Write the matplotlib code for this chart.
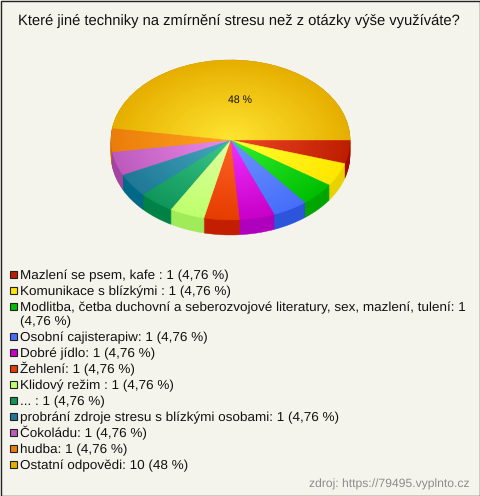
import numpy as np
import matplotlib
matplotlib.use('Agg')
import matplotlib.pyplot as plt
from matplotlib.patches import Rectangle

plt.rcParams['font.family'] = ['Liberation Sans', 'DejaVu Sans']
plt.rcParams['text.hinting'] = 'none'

title = "Které jiné techniky na zmírnění stresu než z otázky výše využíváte?"
source = "zdroj: https://79495.vyplnto.cz"
values = [1, 1, 1, 1, 1, 1, 1, 1, 1, 1, 1, 10]
labels = [
    "Mazlení se psem, kafe : 1 (4,76 %)",
    "Komunikace s blízkými : 1 (4,76 %)",
    "Modlitba, četba duchovní a seberozvojové literatury, sex, mazlení, tulení: 1\n(4,76 %)",
    "Osobní cajisterapiw: 1 (4,76 %)",
    "Dobré jídlo: 1 (4,76 %)",
    "Žehlení: 1 (4,76 %)",
    "Klidový režim : 1 (4,76 %)",
    "... : 1 (4,76 %)",
    "probrání zdroje stresu s blízkými osobami: 1 (4,76 %)",
    "Čokoládu: 1 (4,76 %)",
    "hudba: 1 (4,76 %)",
    "Ostatní odpovědi: 10 (48 %)",
]

edge_colors = ['#be1e00', '#ffe600', '#00be00', '#466efa', '#c800c8', '#e63c00',
               '#beff6e', '#10965a', '#1e7896', '#be5abe', '#eb7d0a', '#e6af00']
center_colors = ['#f04628', '#ffff32', '#32f032', '#6e96ff', '#f032ff', '#ff6428',
                 '#e1ffa0', '#3cc88c', '#46aabe', '#eb8ceb', '#ffa51e', '#ffe632']
side_colors = ['#a50a00', '#e8d200', '#00a500', '#2d55dc', '#af00be', '#c31e00',
               '#a0eb5a', '#008246', '#006987', '#a046a0', '#c8640a', '#b48c00']

W, H = 480, 496
BG = '#f5f4ec'
fig = plt.figure(figsize=(W / 100, H / 100), dpi=100, facecolor=BG)

# pie axes: top face is x 111-350, y 60-220 px, room below for the side
depth = 15 / 80
ax = fig.add_axes([111 / W, 1 - 240 / H, 239 / W, 180 / H])

for d in np.linspace(depth, 0, 16):
    wedges, _ = ax.pie(values, colors=side_colors, startangle=0, counterclock=False,
                       center=(0, -d), radius=1)
    for w in wedges:
        w.set_edgecolor(w.get_facecolor())
        w.set_linewidth(0.3)

c0 = np.array([matplotlib.colors.to_rgb(c) for c in center_colors])
c1 = np.array([matplotlib.colors.to_rgb(c) for c in edge_colors])
for r in np.linspace(1, 0.02, 50):
    cols = c0 + (c1 - c0) * r
    wedges, _ = ax.pie(values, colors=cols, startangle=0, counterclock=False, radius=r)
    for w in wedges:
        w.set_edgecolor(w.get_facecolor())
        w.set_linewidth(0.3)

ax.set_aspect('auto')
ax.set_xlim(-1, 1)
ax.set_ylim(-1.25, 1)
ax.axis('off')

# overlay in pixel coordinates for texts, legend and border
ov = fig.add_axes([0, 0, 1, 1])
ov.set_xlim(0, W)
ov.set_ylim(H, 0)
ov.axis('off')
ov.patch.set_alpha(0)

ov.add_patch(Rectangle((0.5, 0.5), W - 1, H - 1, fill=False, ec='#222222', lw=1))
ov.text(238.5, 25, title, ha='center', va='baseline', fontsize=10.65, color='#111111')
ov.text(240, 103, "48 %", ha='center', va='baseline', fontsize=7.6, color='#111111')
ov.text(470, 488, source, ha='right', va='baseline', fontsize=8.75, color='#8c8c8c')

y = 274
for label, col in zip(labels, edge_colors):
    ov.add_patch(Rectangle((9.5, y - 3.5), 7, 7, fc=col, ec='#222222', lw=0.8))
    for i, line in enumerate(label.split("\n")):
        ov.text(20, y + 5 + i * 14, line, ha='left', va='baseline', fontsize=9.7, color='#111111')
        if i:
            y += 14
    y += 16

fig.savefig("out.png", dpi=100, facecolor=BG)
